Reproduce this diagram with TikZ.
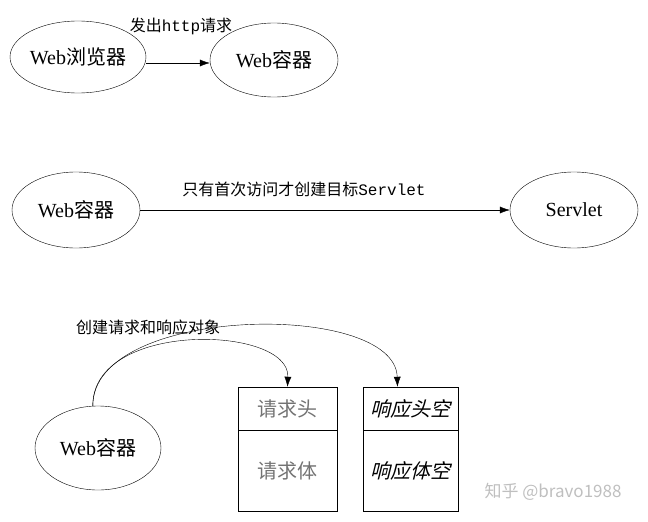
\documentclass[tikz,border=0pt]{standalone}
\usepackage{fontspec}
\setmainfont{Liberation Serif}
\setmonofont{Liberation Mono}
\newfontfamily\cjk{Noto Sans CJK SC}
\newfontfamily\cjkslant[FakeSlant=0.25]{Noto Sans CJK SC}
\usetikzlibrary{positioning}
\usetikzlibrary{arrows.meta}
\usetikzlibrary{shapes.geometric}

\begin{document}
\begin{tikzpicture}[x=1pt, y=-1pt,
ovalnode/.style={ellipse, draw=black, thin, inner sep=0pt, font=\fontsize{20}{24}\selectfont},
labelnode/.style={inner sep=0pt, font=\fontsize{16}{19}\selectfont\cjk},
headnode/.style={rectangle, draw=black, thin, inner sep=0pt, minimum height=43pt, font=\fontsize{20}{24}\selectfont},
bodynode/.style={rectangle, draw=black, thin, inner sep=0pt, minimum height=81pt, font=\fontsize{20}{24}\selectfont},
arrowline/.style={-{Latex[length=10pt,width=7pt]}, thin},
]
\useasboundingbox (0,0) rectangle (648,522);

%Nodes
\node[ovalnode, minimum width=122pt, minimum height=72pt] (browser)   at (78,57)   {Web{\cjk 浏览器}};
\node[ovalnode, minimum width=128pt, minimum height=74pt] (webc1)     at (274,60)  {Web{\cjk 容器}};
\node[ovalnode, minimum width=128pt, minimum height=76pt] (webc2)     at (76,210)  {Web{\cjk 容器}};
\node[ovalnode, minimum width=128pt, minimum height=76pt] (servlet)   at (574,210) {Servlet};
\node[ovalnode, minimum width=126pt, minimum height=84pt] (webc3)     at (98,448)  {Web{\cjk 容器}};

\node[headnode, minimum width=99pt, text=black!55] (reqhead)  at (287.5,408.5)      {\cjk 请求头};
\node[bodynode, minimum width=99pt, text=black!55] (reqbody)  [below=0pt of reqhead] {\cjk 请求体};
\node[headnode, minimum width=95pt] (resphead) at (410.5,408.5)       {\cjkslant 响应头空};
\node[bodynode, minimum width=95pt] (respbody) [below=0pt of resphead] {\cjkslant 响应体空};

%Labels
\node[labelnode] (sendlabel)   at (181,26)  {发出{\ttfamily http}请求};
\node[labelnode] (createlabel) at (304,189) {只有首次访问才创建目标{\ttfamily Servlet}};
\node[labelnode] (objlabel)    at (148,327) {创建请求和响应对象};
\node[inner sep=0pt, text=black!25, font=\fontsize{17}{20}\selectfont\cjk] (mark) at (553,492) {知乎 @bravo1988};

%Lines
\draw[arrowline] ([yshift=-6pt]browser.east) -- ([yshift=-3pt]webc1.west);
\draw[arrowline] (webc2.east) -- (servlet.west);
\draw[arrowline] (webc3.97) .. controls (92,320) and (290,325) .. (reqhead.north);
\draw[arrowline] (webc3.97) .. controls (92,305) and (395,300) .. ([xshift=-13pt]resphead.north);
\end{tikzpicture}
\end{document}
